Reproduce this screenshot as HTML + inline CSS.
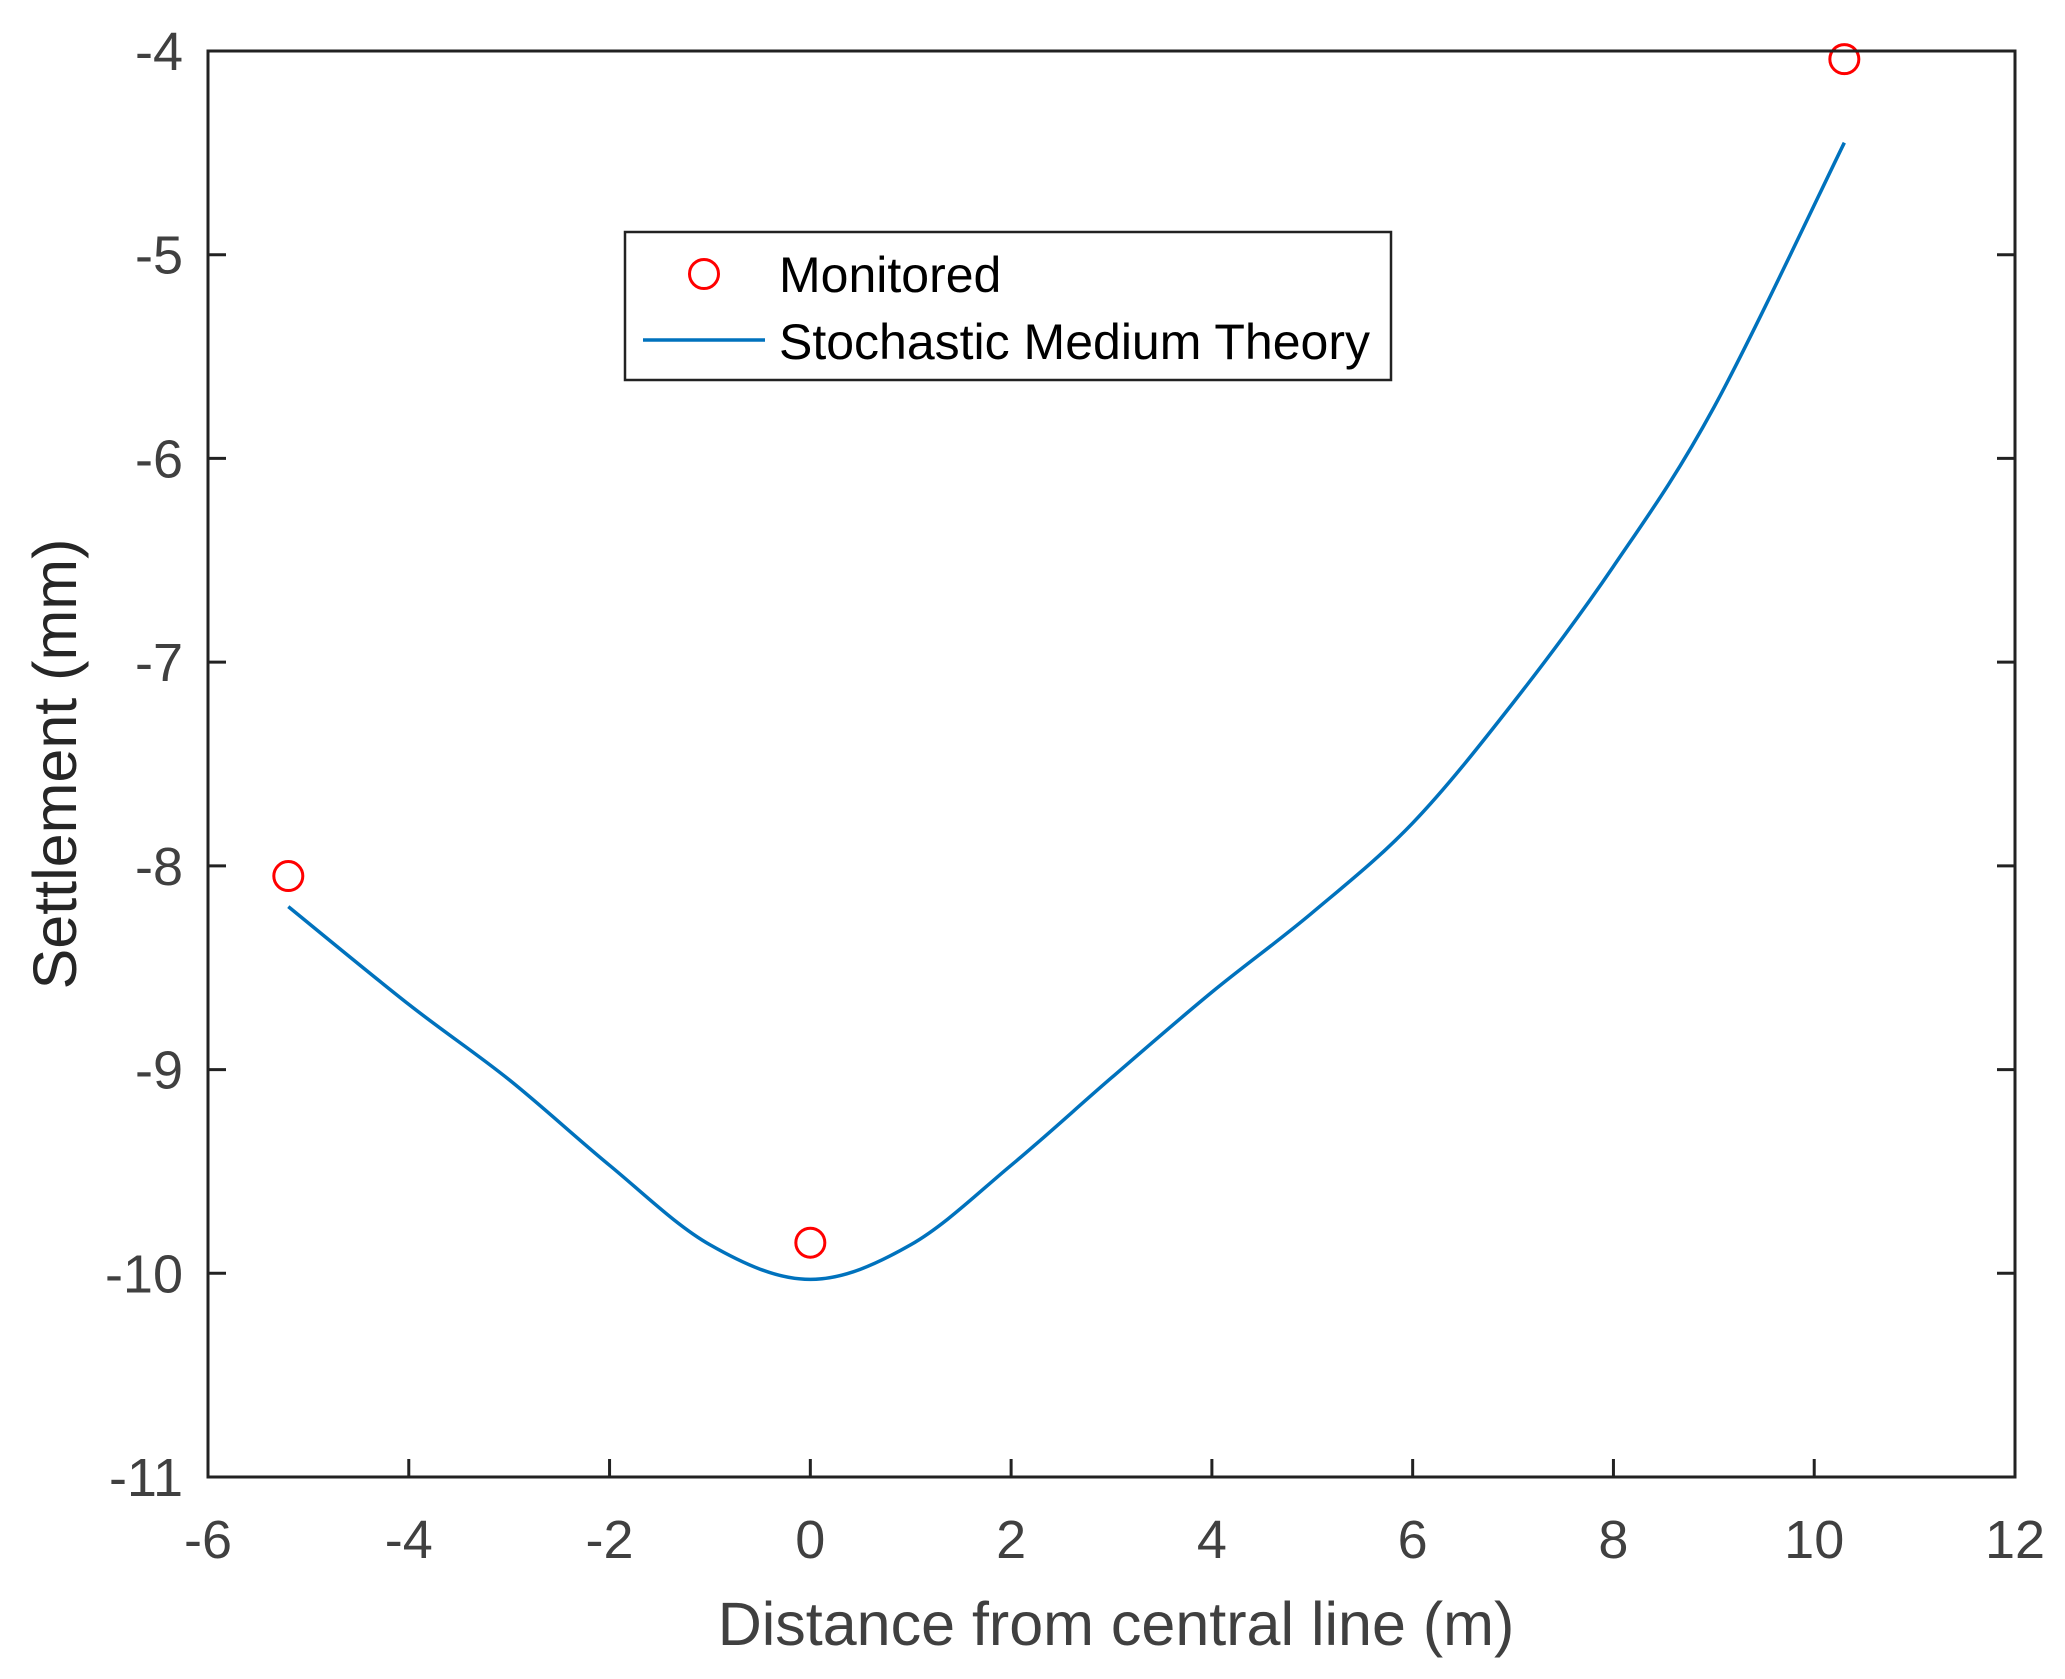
<!DOCTYPE html>
<html><head><meta charset="utf-8"><style>
html,body{margin:0;padding:0;background:#fff;}
svg{display:block;font-family:"Liberation Sans",Arial,sans-serif;}
</style></head><body>
<svg id="chart" width="2065" height="1679" viewBox="0 0 2065 1679">
<rect x="0" y="0" width="2065" height="1679" fill="#fff"/>
<g id="ticks"></g>
<g id="series"></g>
<rect x="208" y="51" width="1807" height="1426" fill="none" stroke="#222" stroke-width="3"/>
<text x="1116" y="1645" font-size="61" fill="#404040" text-anchor="middle">Distance from central line (m)</text>
<text transform="translate(76,764) rotate(-90)" font-size="61" fill="#262626" text-anchor="middle">Settlement (mm)</text>
<g>
<rect x="625" y="232" width="766" height="148" fill="#fff" stroke="#222" stroke-width="2.5"/>
<circle cx="704" cy="274" r="14.5" fill="none" stroke="#ff0000" stroke-width="3"/>
<text x="779" y="292" font-size="50" fill="#000">Monitored</text>
<line x1="643" y1="340" x2="765" y2="340" stroke="#0072BD" stroke-width="3.5"/>
<text x="779" y="359" font-size="50" fill="#000">Stochastic Medium Theory</text>
</g>
</svg>
<script>
const xTicks=[-6,-4,-2,0,2,4,6,8,10,12];
const yTicks=[-4,-5,-6,-7,-8,-9,-10,-11];
const monX=[-5.2,0,10.3];
const monY=[-8.05,-9.85,-4.04];
const curveX=[-5.2,-4,-3,-2,-1,0,1,2,3,4,5,6,7,8,9,10.3];
const curveY=[-8.2,-8.68,-9.05,-9.47,-9.86,-10.03,-9.86,-9.47,-9.04,-8.62,-8.23,-7.79,-7.2,-6.53,-5.75,-4.45];
const L=208,R=2015,T=51,B=1477;
const sx=v=>L+(v+6)/18*(R-L);
const sy=v=>T+(-4-v)/7*(B-T);
const NS='http://www.w3.org/2000/svg';
const tg=document.getElementById('ticks'),sg=document.getElementById('series');
function mk(tag,attrs,parent){const e=document.createElementNS(NS,tag);for(const k in attrs)e.setAttribute(k,attrs[k]);parent.appendChild(e);return e;}
xTicks.forEach(v=>{const x=sx(v);
 let l=mk('line',{x1:x,x2:x,y1:B,y2:B-18,stroke:'#222','stroke-width':3},tg);
 
 
 let t=mk('text',{x:x,y:1558,'font-size':54,fill:'#404040','text-anchor':'middle'},tg);t.textContent=v;
 
 
});
yTicks.forEach(v=>{const y=sy(v);
 let l=mk('line',{x1:L,x2:L+18,y1:y,y2:y,stroke:'#222','stroke-width':3},tg);
 
 
 let l2=mk('line',{x1:R,x2:R-18,y1:y,y2:y,stroke:'#222','stroke-width':3},tg);
 
 
 let t=mk('text',{x:183,y:y+19,'font-size':54,fill:'#404040','text-anchor':'end'},tg);t.textContent=v;
 
 
});
const P=curveX.map((v,i)=>[sx(v),sy(curveY[i])]);
let d='M'+P[0][0]+','+P[0][1];
for(let i=0;i<P.length-1;i++){const p0=P[Math.max(0,i-1)],p1=P[i],p2=P[i+1],p3=P[Math.min(P.length-1,i+2)];
 const c1=[p1[0]+(p2[0]-p0[0])/6,p1[1]+(p2[1]-p0[1])/6],c2=[p2[0]-(p3[0]-p1[0])/6,p2[1]-(p3[1]-p1[1])/6];
 d+=' C'+c1[0]+','+c1[1]+' '+c2[0]+','+c2[1]+' '+p2[0]+','+p2[1];}
const path=mk('path',{d:d,fill:'none',stroke:'#0072BD','stroke-width':3.5},sg);


monX.forEach((v,i)=>{const c=mk('circle',{cx:sx(v),cy:sy(monY[i]),r:14.5,fill:'none',stroke:'#ff0000','stroke-width':3},sg);
 
 
});
</script>
</body></html>
